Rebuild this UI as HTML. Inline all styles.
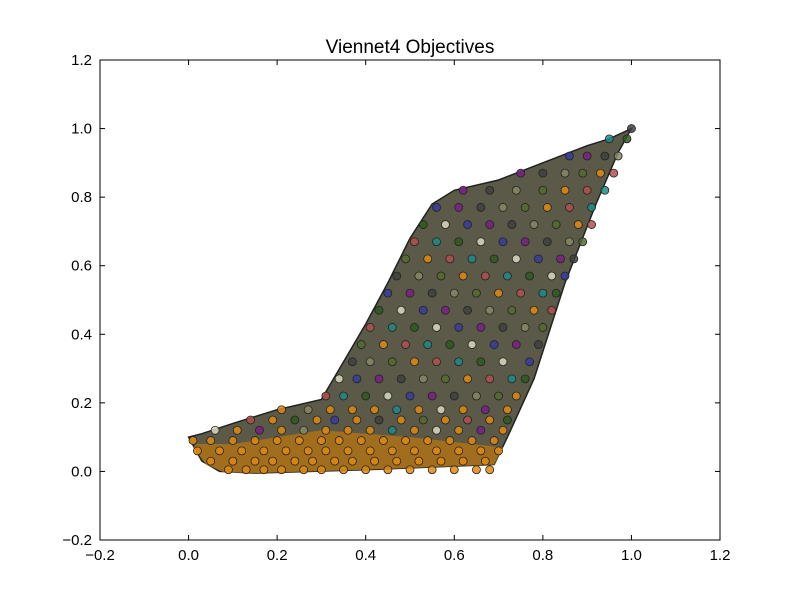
<!DOCTYPE html>
<html><head><meta charset="utf-8"><style>
body{margin:0;background:#fff;}
svg text{font-family:"Liberation Sans",sans-serif;}
</style></head><body>
<svg id="chart" width="800" height="600" xmlns="http://www.w3.org/2000/svg">
<rect width="800" height="600" fill="#fff"/>
<text x="410" y="53" font-size="19" text-anchor="middle">Viennet4 Objectives</text>
<g id="plot"></g>
<g id="axes"></g>
</svg>
<script>
const xTicks=[-0.2,0,0.2,0.4,0.6,0.8,1.0,1.2];
const yTicks=[-0.2,0,0.2,0.4,0.6,0.8,1.0,1.2];
const xTickLabels=["\u22120.2","0.0","0.2","0.4","0.6","0.8","1.0","1.2"];
const yTickLabels=["\u22120.2","0.0","0.2","0.4","0.6","0.8","1.0","1.2"];
const regionX=[0.0,0.03,0.07,0.15,0.4,0.69,0.72,0.78,0.85,0.92,0.97,1.0,0.95,0.9,0.8,0.7,0.6,0.55,0.5,0.45,0.4,0.35,0.3,0.2,0.1,0.03];
const regionY=[0.1,0.03,0.0,-0.005,0.005,0.02,0.1,0.27,0.55,0.78,0.93,1.0,0.97,0.95,0.9,0.85,0.82,0.78,0.68,0.55,0.43,0.32,0.21,0.18,0.14,0.11];
const bandX=[0.01,0.04,0.08,0.15,0.4,0.69,0.71,0.5,0.3,0.1,0.02];
const bandY=[0.07,0.02,-0.002,-0.005,0.005,0.02,0.07,0.1,0.12,0.08,0.08];
const rowY=[0.005,0.03,0.06,0.09,0.12,0.15,0.18,0.22,0.27,0.32,0.37,0.42,0.47,0.52,0.57,0.62,0.67,0.72,0.77,0.82,0.87,0.92,0.97,1.0];
const rowX=[
[0.09,0.13,0.17,0.21,0.26,0.30,0.35,0.40,0.45,0.50,0.55,0.60,0.65,0.68],
[0.05,0.10,0.15,0.19,0.24,0.28,0.33,0.37,0.42,0.47,0.52,0.57,0.62,0.67],
[0.02,0.07,0.12,0.17,0.22,0.27,0.31,0.36,0.41,0.46,0.51,0.56,0.61,0.66,0.70],
[0.01,0.05,0.10,0.15,0.20,0.25,0.30,0.34,0.39,0.44,0.49,0.54,0.59,0.64,0.69],
[0.06,0.11,0.16,0.21,0.26,0.31,0.36,0.41,0.46,0.51,0.56,0.61,0.66,0.71],
[0.14,0.19,0.24,0.29,0.33,0.38,0.43,0.48,0.53,0.58,0.63,0.68,0.72],
[0.21,0.27,0.32,0.37,0.42,0.47,0.52,0.57,0.62,0.67,0.72],
[0.31,0.35,0.40,0.45,0.50,0.55,0.60,0.65,0.70,0.74],
[0.34,0.38,0.43,0.48,0.53,0.58,0.63,0.68,0.73,0.76],
[0.37,0.41,0.46,0.51,0.56,0.61,0.66,0.71,0.77],
[0.39,0.44,0.49,0.54,0.59,0.64,0.69,0.74,0.79],
[0.41,0.46,0.51,0.56,0.61,0.66,0.71,0.76,0.80],
[0.43,0.48,0.53,0.58,0.63,0.68,0.73,0.78,0.82],
[0.45,0.50,0.55,0.60,0.65,0.70,0.75,0.80,0.83],
[0.47,0.52,0.57,0.62,0.67,0.72,0.77,0.82,0.85],
[0.49,0.54,0.59,0.64,0.69,0.74,0.79,0.84,0.87],
[0.51,0.56,0.61,0.66,0.71,0.76,0.81,0.86,0.89],
[0.53,0.58,0.63,0.68,0.73,0.78,0.83,0.88,0.91],
[0.56,0.61,0.66,0.71,0.76,0.81,0.86,0.91],
[0.62,0.68,0.74,0.80,0.85,0.90,0.94],
[0.75,0.80,0.85,0.89,0.93,0.96],
[0.86,0.90,0.94,0.97],
[0.95,0.99],
[1.0]];
const X0=100,X1=720,Y0=540,Y1=60;
const sx=v=>X0+(v+0.2)/1.4*(X1-X0);
const sy=v=>Y0-(v+0.2)/1.4*(Y0-Y1);
const NS="http://www.w3.org/2000/svg";
const plot=document.getElementById('plot'),axes=document.getElementById('axes');
function mk(tag,attrs,parent){const e=document.createElementNS(NS,tag);for(const k in attrs)e.setAttribute(k,attrs[k]);parent.appendChild(e);return e;}
const reg=mk('polygon',{points:regionX.map((x,i)=>sx(x)+','+sy(regionY[i])).join(' '),fill:'#3e3d28','fill-opacity':'0.85',stroke:'#222','stroke-width':'1.5'},plot);


const band=mk('polygon',{points:bandX.map((x,i)=>sx(x)+','+sy(bandY[i])).join(' '),fill:'#a8701a','fill-opacity':'0.9',stroke:'none'},plot);


const pal=['#2e5a1f','#7a1f8a','#556b2f','#1e8a8a','#3a3aa0','#888866','#b05050','#d9d9c0','#404040','#e08a10'];
let k=0;
rowY.forEach((y,ri)=>{rowX[ri].forEach((x,ci)=>{k++;
 let c=(y<0.1||(y<0.2&&k%2==0))?'#e08a10':pal[(k*7+ri)%pal.length];
 const p=mk('circle',{cx:sx(x),cy:sy(y),r:4,fill:c,'fill-opacity':'0.85',stroke:'#222','stroke-width':'0.8'},plot);
 
 
});});
const fr=mk('rect',{x:X0,y:Y1,width:X1-X0,height:Y0-Y1,fill:'none',stroke:'#000','stroke-width':'1'},axes);


xTicks.forEach((t,i)=>{const x=sx(t);
 mk('line',{x1:x,x2:x,y1:Y0,y2:Y0-5,stroke:'#000'},axes);
 mk('line',{x1:x,x2:x,y1:Y1,y2:Y1+5,stroke:'#000'},axes);
 const l=mk('text',{x:x,y:Y0+20,'font-size':'15','text-anchor':'middle'},axes);l.textContent=xTickLabels[i];
 
 
});
yTicks.forEach((t,i)=>{const y=sy(t);
 mk('line',{x1:X0,x2:X0+5,y1:y,y2:y,stroke:'#000'},axes);
 mk('line',{x1:X1,x2:X1-5,y1:y,y2:y,stroke:'#000'},axes);
 const l=mk('text',{x:X0-8,y:y+5,'font-size':'15','text-anchor':'end'},axes);l.textContent=yTickLabels[i];
 
 
});
</script>
</body></html>
